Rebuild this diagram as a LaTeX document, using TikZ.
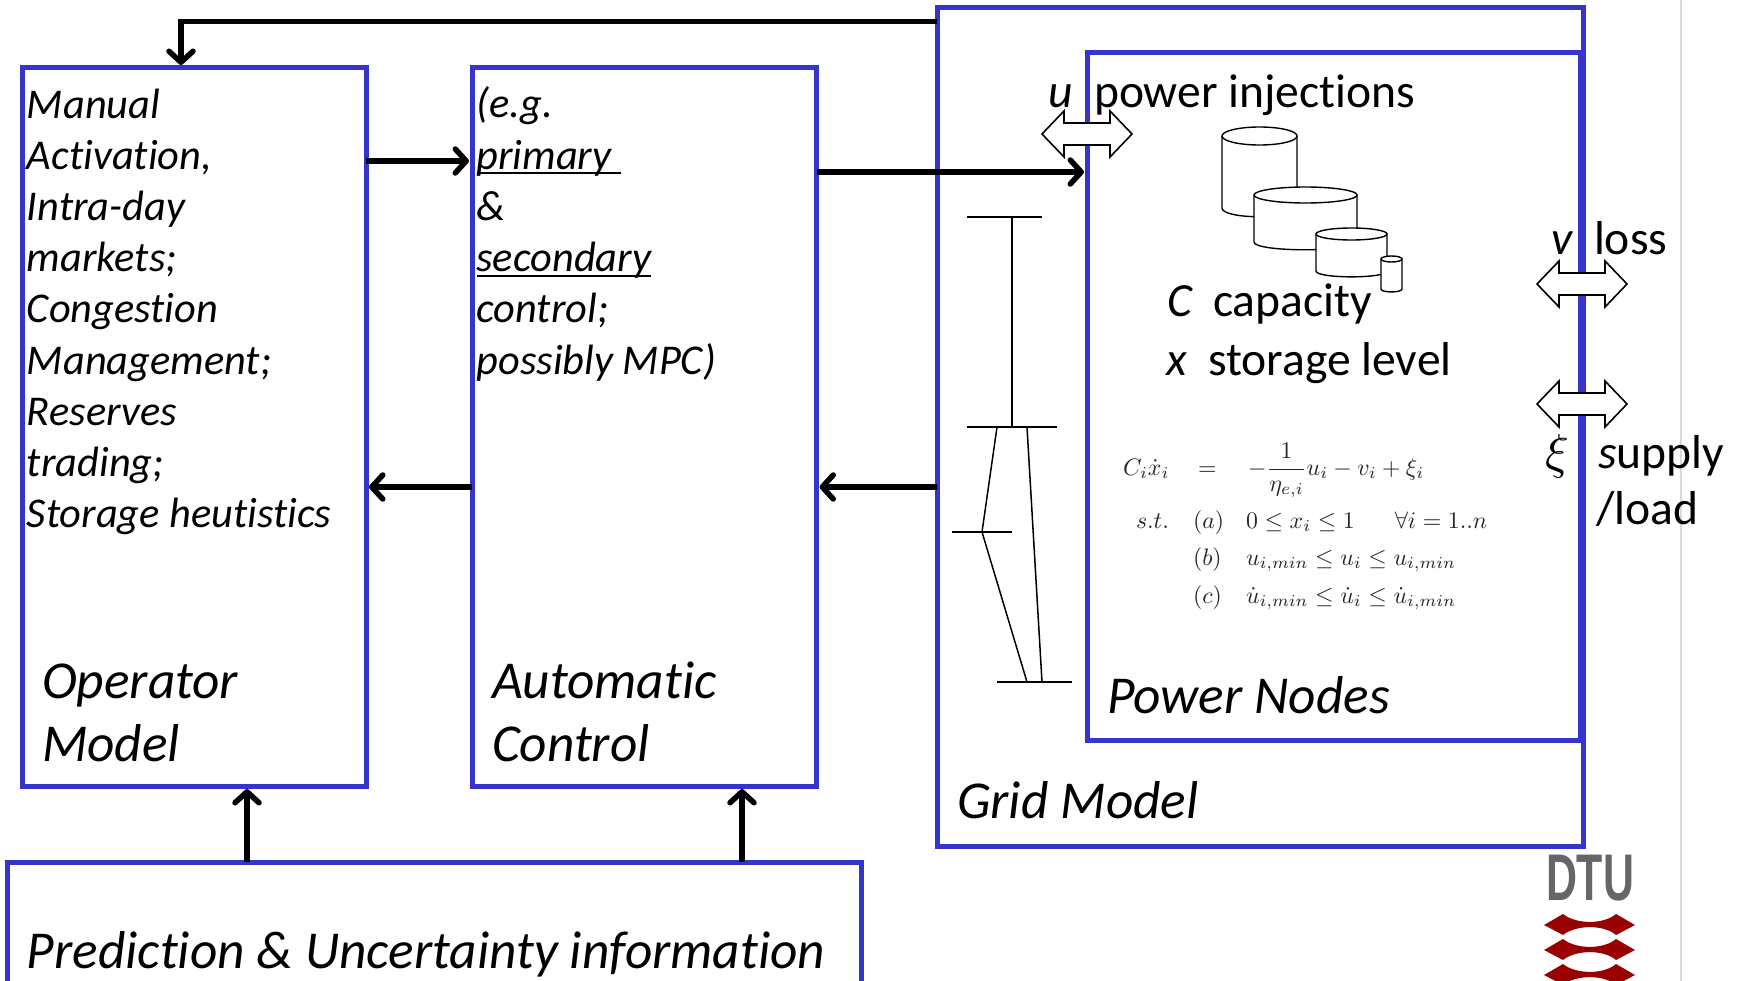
\documentclass[tikz,border=0pt]{standalone}
\usepackage{fontspec}
\setmainfont{Carlito}[Ligatures=NoCommon]
\newfontfamily\dtufont{Liberation Sans}
\usetikzlibrary{arrows.meta}
\definecolor{boxblue}{HTML}{3535CC}
\definecolor{dtured}{HTML}{990000}
\definecolor{dtugray}{HTML}{666666}
\newcommand\ulx[1]{\setbox0=\hbox{#1}\rlap{\rule[-5pt]{\wd0}{1.8pt}}\box0}
\newcommand\dblarrow[3]{% x y name
  \draw[line width=1.6pt,fill=white] (#1-45,#2) -- (#1-23,#2-23) -- (#1-23,#2-11) -- (#1+23,#2-11) -- (#1+23,#2-23) -- (#1+45,#2) -- (#1+23,#2+23) -- (#1+23,#2+11) -- (#1-23,#2+11) -- (#1-23,#2+23) -- cycle;
  \coordinate (#3) at (#1,#2);}
\newcommand\cyl[5]{% x1 x2 cy ry bottom
  \draw[line width=1.4pt,fill=white] (#1,#3) -- (#1,#5) .. controls (#1,{#5+#4*1.3}) and (#2,{#5+#4*1.3}) .. (#2,#5) -- (#2,#3);
  \draw[line width=1.4pt,fill=white] ({(#1+#2)/2},#3) ellipse ({(#2-#1)/2} and #4);}
\newcommand\wave[1]{%
  \fill[dtured] (1544,#1+11) -- (1563,#1) .. controls (1576,#1+10.5) and (1604,#1+10.5) .. (1616,#1) -- (1635,#1+11) -- (1616,#1+21) .. controls (1604,#1+10.5) and (1576,#1+10.5) .. (1563,#1+21) -- cycle;}
\tikzset{
  bx/.style={draw=boxblue,line width=5pt,outer sep=0pt,inner sep=0pt,anchor=north west},
  flow/.style={line width=5.5pt,shorten >=3pt,-{Straight Barb[length=11pt,width=24pt,line cap=round,round]}},
  txt/.style={anchor=base west,inner sep=0pt,outer sep=0pt},
  bodytxt/.style={txt,align=left,font=\fontsize{42.4}{51.2}\selectfont\itshape},
  lab/.style={txt,font=\fontsize{47.6}{51}\selectfont},
  big/.style={txt,font=\fontsize{53.3}{63}\selectfont\itshape},
  eq/.style={txt,scale=2.38,text=black!85},
  bus/.style={line width=1.5pt}
}
\begin{document}
\begin{tikzpicture}[x=1pt,y=-1pt]
\useasboundingbox (0,0) rectangle (1737,981);
\clip (0,0) rectangle (1737,981);
\fill[white] (0,0) rectangle (1737,981);
% gray page edge
\draw[line width=1.5pt,black!15] (1681,0) -- (1681,981);
% boxes
\node[bx,minimum width=646pt,minimum height=838pt] (grid) at (937,8) {};
\node[bx,minimum width=493pt,minimum height=688pt] (pn) at (1087,52.5) {};
\node[bx,minimum width=344pt,minimum height=718pt] (op) at (22,68) {};
\node[bx,minimum width=344.5pt,minimum height=718pt] (ac) at (472,68) {};
\node[bx,minimum width=854pt,minimum height=200pt] (pred) at (7,862) {};
% connectors
\coordinate (topcorner) at (181,21.5);
\draw[flow] (grid.west |- topcorner) -- (topcorner) -- (topcorner |- op.north);
\draw[flow] (op.east |- 0,161) -- (ac.west |- 0,161);
\draw[flow] (ac.east |- 0,172) -- (pn.west |- 0,172);
\draw[flow] (ac.west |- 0,487) -- (op.east |- 0,487);
\draw[flow] (grid.west |- 0,487) -- (ac.east |- 0,487);
\draw[flow] (pred.north -| 247,0) -- (op.south -| 247,0);
\draw[flow] (pred.north -| 742,0) -- (ac.south -| 742,0);
% double arrows
\dblarrow{1087}{134}{uarrow}
\dblarrow{1582}{284}{varrow}
\dblarrow{1582}{404}{xiarrow}
% box texts
\node[bodytxt] (optxt) at (27,527.6) {Manual\\Activation,\\Intra-day\\markets;\\Congestion\\Management;\\Reserves\\trading;\\Storage heutistics};
\node[bodytxt] (actxt) at (476.5,374) {(e.g.\\\ulx{primary\ }\\\&\\\ulx{secondary}\\control;\\possibly MPC)};
\node[big] (opl) at (42,698) {Operator};
\node[big] (opl2) at (42,761) {Model};
\node[big] (acl) at (492,698) {Automatic};
\node[big] (acl2) at (492,761) {Control};
\node[big] (pnl) at (1107,713) {Power Nodes};
\node[big] (gl) at (957,818) {Grid Model};
\node[big] (prl) at (27,968) {Prediction \& Uncertainty information};
% labels
\node[lab] (ul) at (1048,108) {\itshape u};
\node[lab] (pi) at (1094,108) {power injections};
\node[lab] (cl) at (1167,317) {\itshape C};
\node[lab] (cap) at (1213,317) {capacity};
\node[lab] (xl) at (1166,375) {\itshape x};
\node[lab] (stor) at (1208,375) {storage level};
\node[lab] (vl) at (1551,255) {\itshape v};
\node[lab] (loss) at (1594,255) {loss};
\node[txt,scale=4.9] (xil) at (1545,468) {$\xi$};
\node[lab] (sup) at (1598,468) {{\itshape s}upply};
\node[lab] (load) at (1596,524) {/load};
% storage cylinders
\cyl{1222}{1297}{136}{9}{208}
\cyl{1254}{1357}{195}{8}{242}
\cyl{1316}{1387}{234}{6}{271}
\cyl{1381}{1402}{259}{3}{289}
% one-line grid
\draw[bus] (967,217) -- (1042,217);
\draw[bus] (1012,217) -- (1012,427);
\draw[bus] (967,427) -- (1057,427);
\draw[bus] (997,427) -- (982,532) -- (1027,682);
\draw[bus] (952,532) -- (1012,532);
\draw[bus] (1027,427) -- (1042,682);
\draw[bus] (997,682) -- (1072,682);
% equations
\node[eq] (e1) at (1123,475) {$C_i\dot{x}_i$};
\node[eq] (e2) at (1198,475) {$=$};
\node[eq] (e3) at (1248,475) {$\displaystyle-\frac{1}{\eta_{e,i}}u_i-v_i+\xi_i$};
\node[eq] (f0) at (1136,528) {$s.t.$};
\node[eq] (f1) at (1193,528) {$(a)$};
\node[eq] (f2) at (1246,528) {$0\leq x_i\leq 1\quad\ \ \ \forall i=1..n$};
\node[eq] (g1) at (1193,565) {$(b)$};
\node[eq] (g2) at (1246,565) {$u_{i,min}\leq u_i\leq u_{i,min}$};
\node[eq] (h1) at (1193,603) {$(c)$};
\node[eq] (h2) at (1246,603) {$\dot{u}_{i,min}\leq \dot{u}_i\leq \dot{u}_{i,min}$};
% logo
\node[txt,text=dtugray,xscale=0.65,font=\fontsize{66}{70}\dtufont\bfseries\selectfont] (dtu) at (1546,900) {DTU};
\wave{914}
\wave{939}
\wave{964}
\end{tikzpicture}
\end{document}
